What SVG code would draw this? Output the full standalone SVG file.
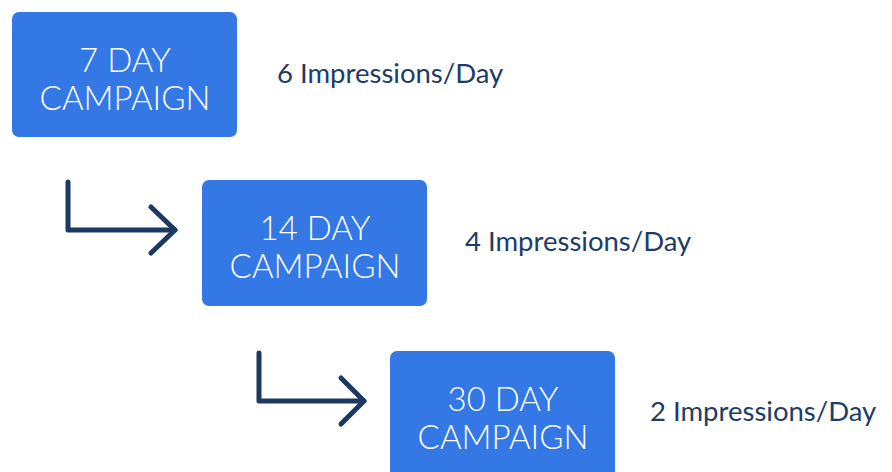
<svg xmlns="http://www.w3.org/2000/svg" width="892" height="472" viewBox="0 0 892 472">
  <style>
    .box { fill: #3478E5; }
    .title { font-family: Lato, "Liberation Sans", sans-serif; font-weight: 300; font-size: 33px; fill: #FFFFFF; text-anchor: middle; }
    .rate { font-family: Lato, "Liberation Sans", sans-serif; font-weight: 400; font-size: 27.5px; fill: #1E3C68; }
    .conn { fill: none; stroke: #1C3963; stroke-width: 5; stroke-linecap: round; stroke-linejoin: round; }
  </style>
  <rect width="892" height="472" fill="#FFFFFF"/>

  <!-- campaign stages -->
  <g id="stage-7">
    <rect class="box" x="12" y="12" width="225" height="125" rx="7"/>
    <text class="title" x="125" y="72">7 DAY</text>
    <text class="title" x="125" y="110">CAMPAIGN</text>
  </g>
  <g id="rate-7">
    <text class="rate" x="277" y="83">6 Impressions/Day</text>
  </g>

  <g id="stage-14">
    <rect class="box" x="202" y="180" width="225" height="126" rx="7"/>
    <text class="title" x="315" y="240">14 DAY</text>
    <text class="title" x="315" y="278">CAMPAIGN</text>
  </g>
  <g id="rate-14">
    <text class="rate" x="465" y="251">4 Impressions/Day</text>
  </g>

  <g id="stage-30">
    <rect class="box" x="390" y="351" width="225" height="130" rx="7"/>
    <text class="title" x="503" y="411">30 DAY</text>
    <text class="title" x="503" y="449">CAMPAIGN</text>
  </g>
  <g id="rate-30">
    <text class="rate" x="650" y="421">2 Impressions/Day</text>
  </g>

  <!-- step-down arrows between stages -->
  <g id="connectors">
    <path class="conn" d="M68 182 V230 H175"/>
    <path class="conn" d="M151 207 L175 230 L151 253"/>
    <path class="conn" d="M259 353 V401 H364"/>
    <path class="conn" d="M341 378 L364 401 L341 424"/>
  </g>
</svg>
